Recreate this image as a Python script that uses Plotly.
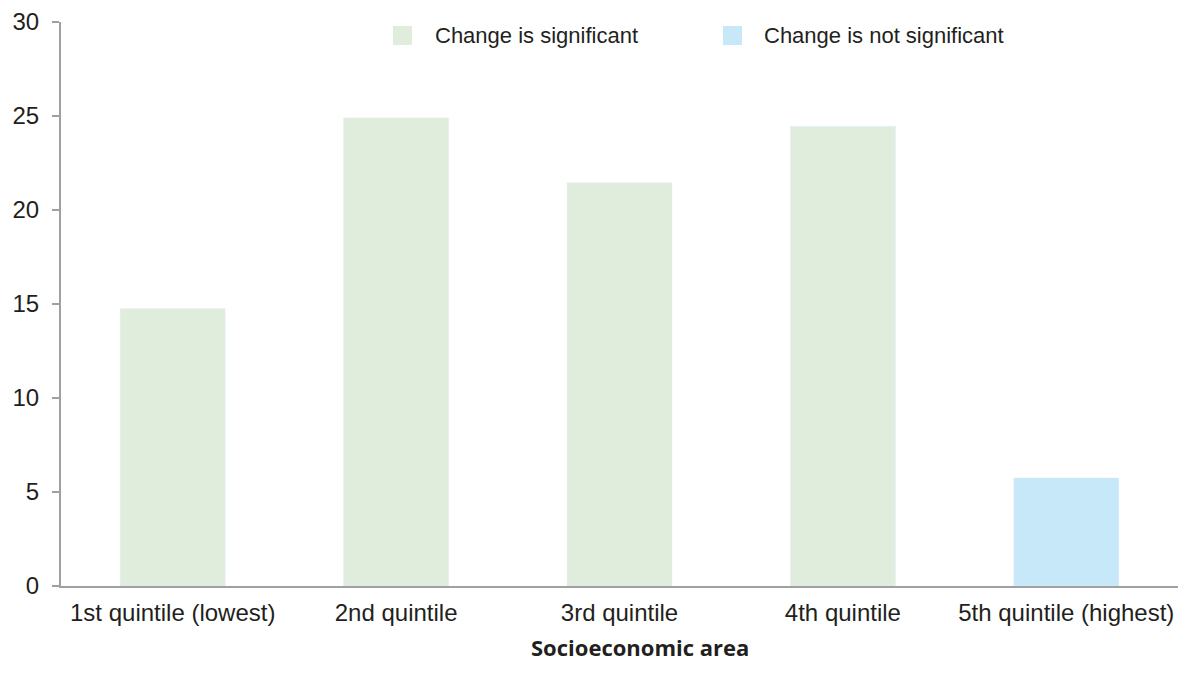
import plotly.graph_objects as go

categories = ["1st quintile (lowest)", "2nd quintile", "3rd quintile", "4th quintile", "5th quintile (highest)"]
significant_values = [14.75, 24.9, 21.45, 24.45, None]
not_significant_values = [None, None, None, None, 5.75]
y_ticks = [0, 5, 10, 15, 20, 25, 30]
legend_labels = ["Change is significant", "Change is not significant"]

GREEN = "#e0ecdc"
BLUE = "#c7e8f8"
AXIS = "#a0a0a4"
TEXT = "#231f20"

fig = go.Figure()
fig.add_trace(go.Bar(x=categories, y=significant_values, marker_color=GREEN, name=legend_labels[0]))
fig.add_trace(go.Bar(x=categories, y=not_significant_values, marker_color=BLUE, name=legend_labels[1]))

W, H = 1187, 688
ml, mr, mt, mb = 61, 9, 22, 102

fig.update_layout(
    width=W, height=H,
    margin=dict(l=ml, r=mr, t=mt, b=mb, autoexpand=False),
    paper_bgcolor="white", plot_bgcolor="white",
    barmode="overlay", bargap=0.53,
    showlegend=False,
    font=dict(family="Liberation Sans, Arial, sans-serif", size=22, color=TEXT),
    xaxis=dict(showline=True, linecolor=AXIS, linewidth=2, ticks="", showgrid=False,
               automargin=False, ticklabelstandoff=4, tickfont=dict(size=24)),
    yaxis=dict(range=[0, 30], tickvals=y_ticks, showline=True, linecolor=AXIS, linewidth=2,
               ticks="outside", ticklen=7, tickcolor=AXIS, tickwidth=2, showgrid=False,
               automargin=False, zeroline=False, ticklabelstandoff=8, tickfont=dict(size=24)),
)

pw = W - ml - mr
ph = H - mt - mb
def px_to_paper_x(px):
    return (px - ml) / pw
def px_to_paper_y(py):
    return (H - mb - py) / ph

legend_items = [(393, 433, GREEN, legend_labels[0]), (723, 762, BLUE, legend_labels[1])]
for sx, tx, col, lab in legend_items:
    fig.add_shape(type="rect", xref="paper", yref="paper",
                  x0=px_to_paper_x(sx), x1=px_to_paper_x(sx + 19),
                  y0=px_to_paper_y(45), y1=px_to_paper_y(26),
                  fillcolor=col, line=dict(width=0))
    fig.add_annotation(xref="paper", yref="paper", x=px_to_paper_x(tx), y=px_to_paper_y(35),
                       text=lab, showarrow=False, xanchor="left", yanchor="middle",
                       font=dict(size=22, color=TEXT))

fig.add_annotation(xref="paper", yref="paper", x=px_to_paper_x(640), y=px_to_paper_y(647),
                   text="<b>Socioeconomic area</b>", showarrow=False, xanchor="center", yanchor="middle",
                   font=dict(family="Open Sans, Noto Sans, sans-serif", size=22, color=TEXT))

fig.write_html("out.html", config={"displayModeBar": False},
               post_script="document.body.style.margin='0';document.body.style.padding='0';")
